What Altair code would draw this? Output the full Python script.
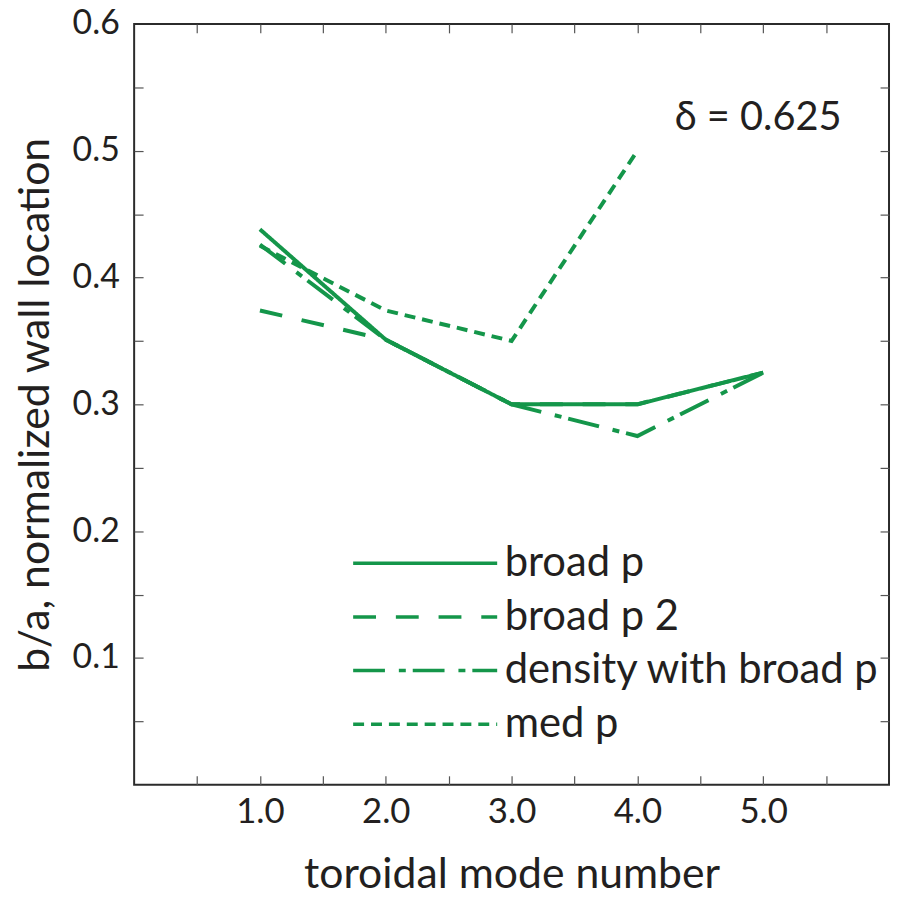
import altair as alt
import pandas as pd

# ---- data ----
modes = [1, 2, 3, 4, 5]
broad_p = [0.438, 0.351, 0.300, 0.300, 0.325]
broad_p2 = [0.374, 0.351, 0.300, 0.300, 0.325]
density_broad_p = [0.426, 0.351, 0.300, 0.275, 0.325]
med_p_modes = [1, 2, 3, 4]
med_p = [0.425, 0.374, 0.350, 0.500]

series_names = ["broad p", "broad p 2", "density with broad p", "med p"]
dash_patterns = [[1, 0], [23, 20], [32, 14, 7, 7], [11, 7]]

x_tick_vals = [0.5, 1.0, 1.5, 2.0, 2.5, 3.0, 3.5, 4.0, 4.5, 5.0, 5.5]
y_tick_vals = [0.05, 0.10, 0.15, 0.20, 0.25, 0.30, 0.35, 0.40, 0.45, 0.50, 0.55]
x_label_vals = [1.0, 2.0, 3.0, 4.0, 5.0]
y_label_vals = [0.1, 0.2, 0.3, 0.4, 0.5, 0.6]

ann_x = [4.96]
ann_y = [0.526]
ann_text = ["δ = 0.625"]

GREEN = "#14964a"
INK = "#231f20"
FONT = "Lato"
W, H = 760, 766

rows = []
for name, xs, ys in [
    ("broad p", modes, broad_p),
    ("broad p 2", modes, broad_p2),
    ("density with broad p", modes, density_broad_p),
    ("med p", med_p_modes, med_p),
]:
    for xv, yv in zip(xs, ys):
        rows.append({"series": name, "mode": xv, "value": yv})
df = pd.DataFrame(rows)
ann_df = pd.DataFrame({"x": ann_x, "y": ann_y, "t": ann_text})

xscale = alt.Scale(domain=[0, 6], nice=False, zero=False)
yscale = alt.Scale(domain=[0, 0.6], nice=False, zero=False)

x_label_axis = alt.Axis(
    values=x_label_vals, format=".1f", ticks=False, tickSize=0, domain=False,
    grid=False, labelFont=FONT, labelFontSize=35, labelColor=INK, labelPadding=10,
    title="toroidal mode number", titleFont=FONT, titleFontSize=43,
    titleFontWeight="normal", titleColor=INK, titlePadding=24,
)
y_label_axis = alt.Axis(
    values=y_label_vals, format=".1f", ticks=False, tickSize=0, domain=False,
    grid=False, labelFont=FONT, labelFontSize=34, labelColor=INK, labelPadding=15,
    title="b/a, normalized wall location", titleFont=FONT, titleFontSize=43,
    titleFontWeight="normal", titleColor=INK, titlePadding=15,
)


def tick_axis(orient, offset, vals):
    return alt.Axis(
        orient=orient, offset=offset, values=vals, labels=False, domain=False,
        grid=False, ticks=True, tickSize=9, tickWidth=1.2, tickColor="#555555",
        title=None,
    )


lines = alt.Chart(df).mark_line(strokeWidth=4, color=GREEN).encode(
    x=alt.X("mode:Q", scale=xscale, axis=x_label_axis),
    y=alt.Y("value:Q", scale=yscale, axis=y_label_axis),
    strokeDash=alt.StrokeDash(
        "series:N",
        sort=series_names,
        scale=alt.Scale(domain=series_names, range=dash_patterns),
        legend=alt.Legend(
            title=None, orient="none", legendX=272, legendY=522,
            symbolType="M-5,0H5", symbolSize=841, symbolStrokeWidth=3.5,
            symbolStrokeColor=GREEN, labelFont=FONT, labelFontSize=42,
            labelColor=INK, labelOffset=59, labelLimit=0, rowPadding=12,
            padding=0,
        ),
    ),
)

ticks_a = alt.Chart(df).mark_point(opacity=0, size=1).encode(
    x=alt.X("mode:Q", scale=xscale, axis=tick_axis("top", -H, x_tick_vals)),
    y=alt.Y("value:Q", scale=yscale, axis=tick_axis("right", -W, y_tick_vals)),
)
ticks_b = alt.Chart(df).mark_point(opacity=0, size=1).encode(
    x=alt.X("mode:Q", scale=xscale, axis=tick_axis("bottom", -H, x_tick_vals)),
    y=alt.Y("value:Q", scale=yscale, axis=tick_axis("left", -W, y_tick_vals)),
)

ann = alt.Chart(ann_df).mark_text(
    font=FONT, fontSize=40, color=INK, align="center", baseline="middle"
).encode(
    x=alt.X("x:Q", scale=xscale, axis=None),
    y=alt.Y("y:Q", scale=yscale, axis=None),
    text="t:N",
)

chart = (
    alt.layer(ticks_a, ticks_b, lines, ann)
    .resolve_axis(x="independent", y="independent")
    .properties(
        width=W, height=H,
        autosize=alt.AutoSizeParams(type="none"),
        padding={"left": 127, "top": 13, "right": 2, "bottom": 112},
        background="white",
    )
    .configure_view(stroke="#2b2b2b", strokeWidth=2)
)

chart.save("out.html", embed_options={"renderer": "svg", "actions": False})
